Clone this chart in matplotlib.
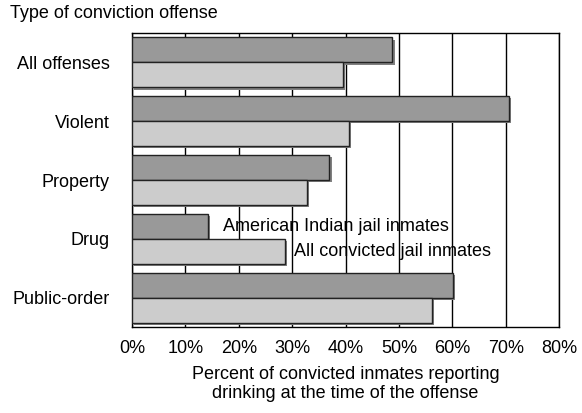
import matplotlib.pyplot as plt
import matplotlib.patheffects as pe
import numpy as np

plt.rcParams['font.family'] = ['Liberation Sans', 'DejaVu Sans']

# Data
categories = ["All offenses", "Violent", "Property", "Drug", "Public-order"]
american_indian = [48.8, 70.7, 37.0, 14.2, 60.2]
all_convicted = [39.5, 40.6, 32.8, 28.7, 56.2]
ticks = [0, 10, 20, 30, 40, 50, 60, 70, 80]
tick_labels = [f"{t}%" for t in ticks]

fs = 13

fig = plt.figure(figsize=(5.82, 4.13), dpi=100)
ax = fig.add_axes([0.2268, 0.2082, 0.9605 - 0.2268, 0.920 - 0.2082])

y = np.arange(len(categories))
h = 0.425
shadow = [pe.SimplePatchShadow(offset=(1.5, -1.5), shadow_rgbFace='#808080', alpha=1.0), pe.Normal()]

ax.barh(y - h / 2, american_indian, height=h, color='#999999', edgecolor='#222222',
        linewidth=1, path_effects=shadow, zorder=3)
ax.barh(y + h / 2, all_convicted, height=h, color='#cccccc', edgecolor='#222222',
        linewidth=1, path_effects=shadow, zorder=3)

ax.set_xlim(0, 80)
ax.set_ylim(len(categories) - 0.5, -0.5)
ax.set_xticks(ticks)
ax.set_xticklabels(tick_labels, fontsize=fs)
ax.set_yticks(y)
ax.set_yticklabels(categories, fontsize=fs)
ax.tick_params(axis='both', length=0)
ax.tick_params(axis='y', pad=16)
ax.tick_params(axis='x', pad=9)
ax.grid(axis='x', color='black', linewidth=1, zorder=0)
ax.set_axisbelow(True)
for s in ax.spines.values():
    s.set_color('black')
    s.set_linewidth(1)

# series labels next to the Drug bars
ax.text(american_indian[3] + 2.8, 3 - h / 2, "American Indian jail inmates",
        fontsize=fs, va='center', ha='left')
ax.text(all_convicted[3] + 1.6, 3 + h / 2, "All convicted jail inmates",
        fontsize=fs, va='center', ha='left')

fig.text(0.017, 0.968, "Type of conviction offense", fontsize=fs, va='center', ha='left')
ax.set_xlabel("Percent of convicted inmates reporting\ndrinking at the time of the offense",
              fontsize=fs, labelpad=7, linespacing=1.15)

fig.savefig("out.png", dpi=100)
